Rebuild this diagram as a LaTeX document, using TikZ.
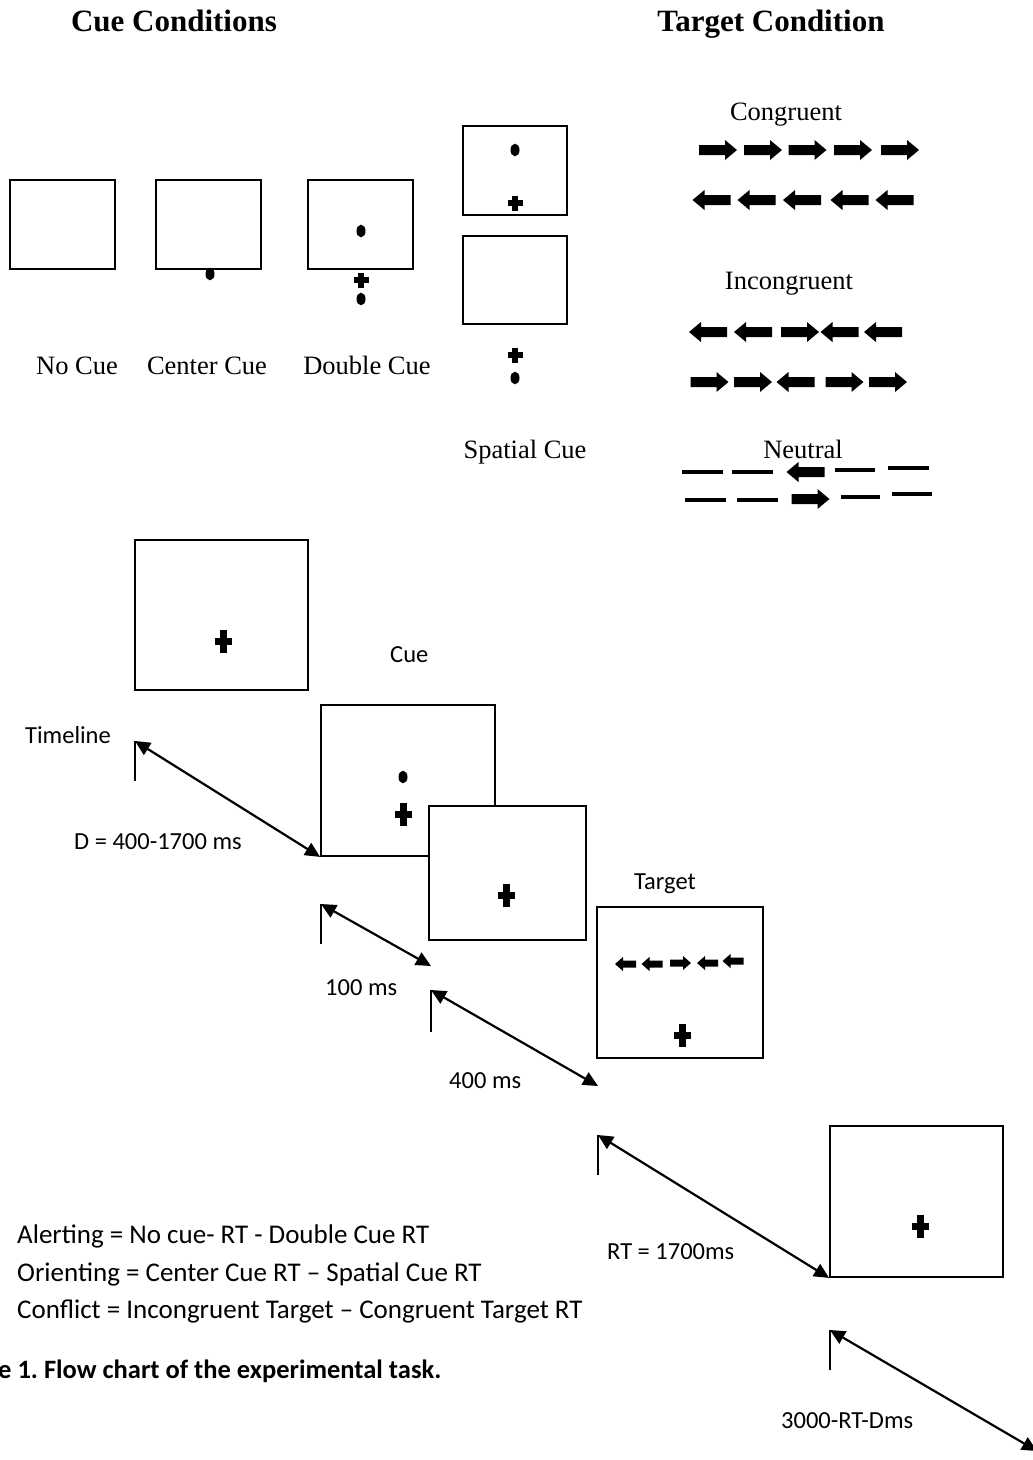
\documentclass[tikz,border=0pt]{standalone}
\usepackage{fontspec}
\setmainfont{Liberation Serif}
\newfontfamily\calfont{Carlito}
\usetikzlibrary{arrows.meta}
\frenchspacing

\tikzset{
  scr/.style={draw, line width=1.8pt, fill=white, inner sep=0pt},
  dur/.style={line width=2.2pt, {Triangle[length=15pt,width=14pt]}-{Triangle[length=15pt,width=14pt]}},
  tickln/.style={line width=2pt},
  dashln/.style={line width=4.5pt},
  serlab/.style={font=\fontsize{26.5}{30}\selectfont, inner sep=0pt, anchor=base},
  ttl/.style={font=\fontsize{31}{36}\selectfont\bfseries, inner sep=0pt, anchor=base},
  callab/.style={font=\calfont\fontsize{24.5}{28}\selectfont, inner sep=0pt, anchor=base west},
  formula/.style={font=\calfont\fontsize{27}{32}\selectfont, inner sep=0pt, anchor=base west},
  rA/.pic={\fill (-19,-5) -- (7,-5) -- (7,-10) -- (19,0) -- (7,10) -- (7,5) -- (-19,5) -- cycle;},
  lA/.pic={\fill (19,-5) -- (-7,-5) -- (-7,-10) -- (-19,0) -- (-7,10) -- (-7,5) -- (19,5) -- cycle;},
  rAs/.pic={\fill (-10.5,-3.5) -- (2.5,-3.5) -- (2.5,-7) -- (10.5,0) -- (2.5,7) -- (2.5,3.5) -- (-10.5,3.5) -- cycle;},
  lAs/.pic={\fill (10.5,-3.5) -- (-2.5,-3.5) -- (-2.5,-7) -- (-10.5,0) -- (-2.5,7) -- (-2.5,3.5) -- (10.5,3.5) -- cycle;},
  plusS/.pic={\fill (-7.5,-2.7) rectangle (7.5,2.7); \fill (-2.7,-7.5) rectangle (2.7,7.5);},
  plusL/.pic={\fill (-8.5,-3.5) rectangle (8.5,3.5); \fill (-3.5,-11.5) rectangle (3.5,11.5);},
  dotm/.pic={\fill (0,0) ellipse [x radius=4.5pt, y radius=6.3pt];}
}

\begin{document}
\begin{tikzpicture}[x=1pt,y=-1pt]
\useasboundingbox (0,0) rectangle (1033,1460);

% ---------- titles ----------
\node[ttl] (tcue) at (174,31) {Cue Conditions};
\node[ttl] (ttarget) at (771,31) {Target Condition};

% ---------- cue condition boxes ----------
\node[scr, minimum width=105pt, minimum height=89pt] (nocue) at (62.5,224.5) {};
\node[scr, minimum width=105pt, minimum height=89pt] (center) at (208.5,224.5) {};
\node[scr, minimum width=105pt, minimum height=89pt] (double) at (360.5,224.5) {};
\node[scr, minimum width=104pt, minimum height=89pt] (spatA) at (515,170.5) {};
\node[scr, minimum width=104pt, minimum height=88pt] (spatB) at (515,280) {};

\pic at (210,274) {dotm};
\pic at (361,231) {dotm};
\pic at (361,280) {plusS};
\pic at (361,299) {dotm};
\pic at (515,150) {dotm};
\pic at (515,203) {plusS};
\pic at (515,355) {plusS};
\pic at (515,378) {dotm};

\node[serlab] (lnocue) at (77,374) {No Cue};
\node[serlab] (lcenter) at (207,374) {Center Cue};
\node[serlab] (ldouble) at (367,374) {Double Cue};
\node[serlab] (lspatial) at (525,458) {Spatial Cue};

% ---------- target conditions ----------
\node[serlab] (lcong) at (786,120) {Congruent};
\node[serlab] (linc) at (789,289) {Incongruent};
\node[serlab] (lneu) at (803,458) {Neutral};

% congruent
\pic at (718,150) {rA};
\pic at (763,150) {rA};
\pic at (807.5,150) {rA};
\pic at (853,150) {rA};
\pic at (900,150) {rA};
\pic at (711.5,200) {lA};
\pic at (756.5,200) {lA};
\pic at (802,200) {lA};
\pic at (849.5,200) {lA};
\pic at (894.5,200) {lA};
% incongruent
\pic at (708,332) {lA};
\pic at (753,332) {lA};
\pic at (800,332) {rA};
\pic at (839.5,332) {lA};
\pic at (883,332) {lA};
\pic at (709.5,382) {rA};
\pic at (753,382) {rA};
\pic at (795.5,382) {lA};
\pic at (844.5,382) {rA};
\pic at (888,382) {rA};
% neutral
\draw[dashln] (682,472) -- (723,472);
\draw[dashln] (732,472) -- (773,472);
\pic at (805.5,472) {lA};
\draw[dashln] (835,470) -- (875,470);
\draw[dashln] (888,468) -- (929,468);
\draw[dashln] (685,500) -- (726,500);
\draw[dashln] (737,500) -- (778,500);
\pic at (810.5,499) {rA};
\draw[dashln] (841,497) -- (880,497);
\draw[dashln] (892,494) -- (932,494);

% ---------- timeline ----------
\node[scr, minimum width=173pt, minimum height=150pt] (fix) at (221.5,615) {};
\pic at (223,641) {plusL};

\node[callab] (lcue) at (390,662) {Cue};
\node[scr, minimum width=174pt, minimum height=151pt] (cuebox) at (408,780.5) {};
\pic at (403,777) {dotm};
\pic at (403,814) {plusL};

\node[scr, minimum width=157pt, minimum height=134pt] (isi) at (507.5,873) {};
\pic at (506,895) {plusL};

\node[callab] (ltarget) at (634,889) {Target};
\node[scr, minimum width=166pt, minimum height=151pt] (tbox) at (680,982.5) {};
\pic at (625.5,964) {lAs};
\pic at (652,964) {lAs};
\pic at (680.5,963) {rAs};
\pic at (707.5,963) {lAs};
\pic at (733,961) {lAs};
\pic at (682,1035) {plusL};

\node[scr, minimum width=173pt, minimum height=151pt] (post) at (916.5,1201.5) {};
\pic at (920,1226) {plusL};

% ticks and durations
\coordinate (t0) at (135,741);
\coordinate (t1) at (321,904);
\coordinate (e1) at (431,966);
\coordinate (t2) at (431,990);
\coordinate (e2) at (598,1086);
\coordinate (t3) at (598,1135);
\coordinate (t4) at (830,1330);
\coordinate (e4) at (1037,1451);

\draw[tickln] (t0) -- ++(0,40);
\draw[tickln] (t1) -- ++(0,40);
\draw[tickln] (t2) -- ++(0,42);
\draw[tickln] (t3) -- ++(0,40);
\draw[tickln] (t4) -- ++(0,40);

\draw[dur] (t0) -- (cuebox.south west);
\draw[dur] (t1) -- (e1);
\draw[dur] (t2) -- (e2);
\draw[dur] (t3) -- (post.south west);
\draw[dur] (t4) -- (e4);

\node[callab] (ltime) at (25,743) {Timeline};
\node[callab] (ld) at (74,849) {D = 400-1700 ms};
\node[callab] (l100) at (325,995) {100 ms};
\node[callab] (l400) at (449,1088) {400 ms};
\node[callab] (lrt) at (607,1259) {RT = 1700ms};
\node[callab] (lrest) at (781,1428) {3000-RT-Dms};

% ---------- formulas and caption ----------
\node[formula] (f1) at (17,1243) {Alerting = No cue- RT - Double Cue RT};
\node[formula] (f2) at (17,1281) {Orienting = Center Cue RT – Spatial Cue RT};
\node[formula] (f3) at (17,1318) {Conflict = Incongruent Target – Congruent Target RT};
\node[formula, font=\calfont\bfseries\fontsize{26.5}{30}\selectfont] (cap) at (-2,1378) {e 1. Flow chart of the experimental task.};
\end{tikzpicture}
\end{document}
